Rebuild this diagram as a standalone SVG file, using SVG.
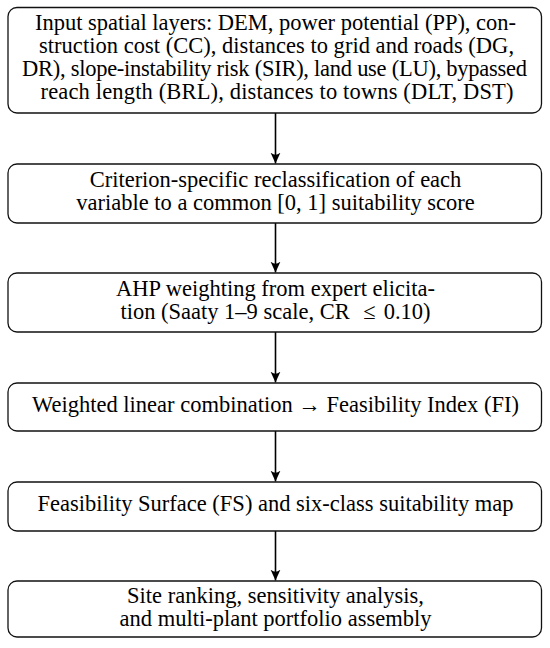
<svg xmlns="http://www.w3.org/2000/svg" width="550" height="648" viewBox="0 0 550 648">
<style>
.box{fill:#fff;stroke:#111;stroke-width:1.3}
text{font-family:"Liberation Serif","DejaVu Serif",serif;font-size:22.5px;fill:#000;text-anchor:middle}
.c{stroke:#000;stroke-width:1.6;fill:none}
</style>
<defs>
<marker id="ah" viewBox="-11 -6 12 12" refX="0" refY="0" markerWidth="12" markerHeight="12" markerUnits="userSpaceOnUse" orient="auto">
<path d="M0,0 L-11,-5 Q-6.5,0 -11,5 Z" fill="#000"/>
</marker>
</defs>
<rect width="550" height="648" fill="#fff"/>
<g id="connectors">
<line class="c" x1="275.5" y1="113" x2="275.5" y2="163.5" marker-end="url(#ah)"/>
<line class="c" x1="275.5" y1="223" x2="275.5" y2="272.5" marker-end="url(#ah)"/>
<line class="c" x1="275.5" y1="332" x2="275.5" y2="382.5" marker-end="url(#ah)"/>
<line class="c" x1="275.5" y1="431" x2="275.5" y2="481.5" marker-end="url(#ah)"/>
<line class="c" x1="275.5" y1="531" x2="275.5" y2="580.5" marker-end="url(#ah)"/>
</g>
<g id="n1">
<rect class="box" x="8" y="7.5" width="533.5" height="105.5" rx="9"/>
<text x="275.5" y="30" textLength="481">Input spatial layers: DEM, power potential (PP), con-</text>
<text x="276.5" y="53" textLength="475">struction cost (CC), distances to grid and roads (DG,</text>
<text x="274.5" y="76" textLength="505">DR), slope-instability risk (SIR), land use (LU), bypassed</text>
<text x="277" y="99" textLength="473">reach length (BRL), distances to towns (DLT, DST)</text>
</g>
<g id="n2">
<rect class="box" x="8" y="164" width="533.5" height="59" rx="9"/>
<text x="275.5" y="187">Criterion-specific reclassification of each</text>
<text x="275.5" y="210">variable to a common [0, 1] suitability score</text>
</g>
<g id="n3">
<rect class="box" x="8" y="273" width="533.5" height="59" rx="9"/>
<text x="275.5" y="296">AHP weighting from expert elicita-</text>
<text x="275.5" y="319">tion (Saaty 1–9 scale, CR <tspan dx="8">≤</tspan><tspan dx="8">0.10)</tspan></text>
</g>
<g id="n4">
<rect class="box" x="8" y="383" width="533.5" height="48" rx="9"/>
<text x="275.5" y="412">Weighted linear combination → Feasibility Index (FI)</text>
</g>
<g id="n5">
<rect class="box" x="8" y="482" width="533.5" height="49" rx="9"/>
<text x="275.5" y="511">Feasibility Surface (FS) and six-class suitability map</text>
</g>
<g id="n6">
<rect class="box" x="8" y="581" width="533.5" height="56" rx="9"/>
<text x="275.5" y="603">Site ranking, sensitivity analysis,</text>
<text x="275.5" y="626">and multi-plant portfolio assembly</text>
</g>
</svg>
